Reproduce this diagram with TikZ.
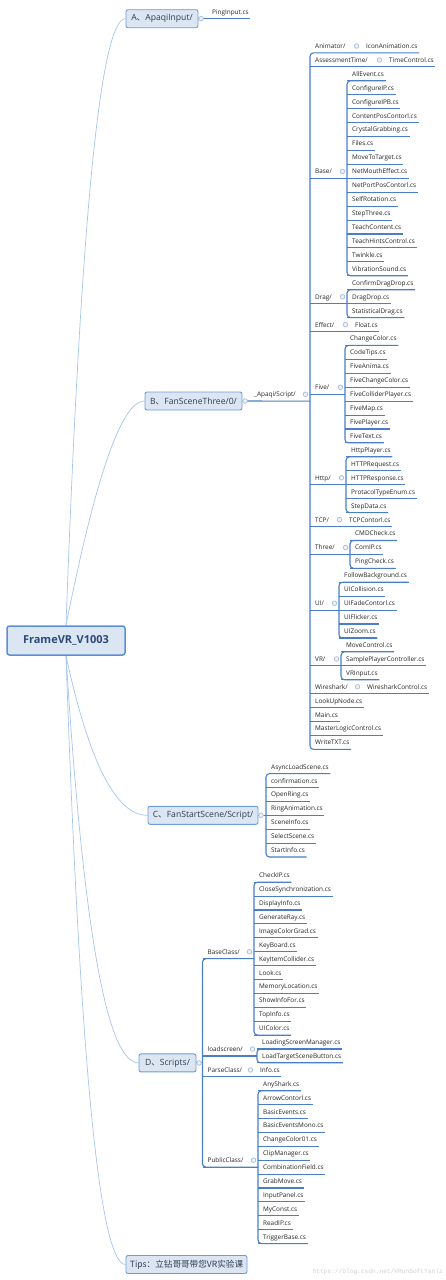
\documentclass[tikz,border=0pt]{standalone}
\usepackage{fontspec}
\setmainfont{Open Sans}
\newfontfamily\cjk{Noto Sans CJK SC}
\newfontfamily\wmfont{Liberation Mono}
\usetikzlibrary{calc}
\definecolor{ulc}{HTML}{4A7EC6}
\definecolor{cvc}{HTML}{A8C5EC}
\definecolor{boxf}{HTML}{DCE6F2}
\definecolor{boxd}{HTML}{6E9CD8}
\definecolor{rootd}{HTML}{5A8FD8}
\definecolor{boxt}{HTML}{2E3D52}
\definecolor{roott}{HTML}{2B4A7A}
\definecolor{txt}{HTML}{262626}
\definecolor{mkc}{HTML}{A9BCD8}
\definecolor{mkf}{HTML}{EEF2F8}
\definecolor{wmc}{HTML}{D0D0D0}
\pgfdeclarelayer{bg}
\pgfsetlayers{bg,main}
\newcommand{\ybr}[1]{(52.9+13.93*(#1))}
\newcommand{\ydd}[1]{(882.2+13.9*(#1))}
\newcommand{\mkgroup}[4]{%
  \draw[ul] (#1.south west) -- (#1.south west -| #2#3.south west);
  \draw[br] (#2#3.south east) -- (#2#3.south west) -- (#2#4.south west) -- (#2#4.south east);
  \foreach \k in {#3,...,#4} \draw[ul] (#2\k.south west) -- (#2\k.south east);
  \node[mk] at ($(#1.south west -| #2#3.south west)+(-4.5,-6.9)$) {};
}
\begin{document}
\begin{tikzpicture}[x=1pt,y=-1pt,
  lf/.style={anchor=south west, inner xsep=0pt, inner ysep=4.3pt, text depth=0pt,
    font=\fontsize{6.4}{7.5}\selectfont, text=txt,
    execute at begin node={\hspace*{5pt}}, execute at end node={\hspace*{1.5pt}}},
  ul/.style={draw=ulc, line width=1.1pt},
  br/.style={ul, rounded corners=3.5pt},
  mk/.style={circle, draw=mkc, fill=mkf, line width=0.7pt, minimum size=4.6pt, inner sep=0pt},
  l1/.style={draw=boxd, fill=boxf, line width=0.9pt, rounded corners=2pt, minimum height=18pt,
    inner sep=0pt, font=\fontsize{8.6}{10}\selectfont, text=boxt},
  rootbox/.style={draw=rootd, fill=boxf, line width=1.5pt, rounded corners=2.5pt,
    minimum width=118pt, minimum height=29pt, inner sep=0pt,
    font=\bfseries\fontsize{11}{13}\selectfont, text=roott},
  cv/.style={draw=cvc, line width=0.7pt}
]
\useasboundingbox (0,0) rectangle (446,1280);

% root and main branches
\node[rootbox] (root) at (66,640.5) {FrameVR\_V1003};
\node[l1, minimum width=72pt] (A) at (162,18.7) {A{\cjk 、}ApaqiInput/};
\node[l1, minimum width=97pt] (B) at (193.5,401) {B{\cjk 、}FanSceneThree/0/};
\node[l1, minimum width=110pt] (C) at (203,815.3) {C{\cjk 、}FanStartScene/Script/};
\node[l1, minimum width=57pt] (D) at (167.5,1062.9) {D{\cjk 、}Scripts/};
\node[l1, minimum width=121pt] (T) at (186.5,1264.5) {\cjk Tips：立钻哥哥带您VR实验课};

\begin{pgfonlayer}{bg}
\fill[white] (0,0) rectangle (446,1280);
\draw[cv] (root.north) .. controls +(14.7,-405) and +(-25.3,0) .. (A.west);
\draw[cv] (root.north) .. controls +(30,-150) and +(-23,0) .. (B.west);
\draw[cv] (root.south) .. controls +(23,106) and +(-32,0) .. (C.west);
\draw[cv] (root.south) .. controls +(17,271) and +(-32,0) .. (D.west);
\draw[cv] (root.south) .. controls +(14,406) and +(-26,0) .. (T.west);
\end{pgfonlayer}

% A
\node[lf] (ping) at (207,18.7) {PingInput.cs};
\draw[ul] (A.east) -- (ping.south east);
\node[mk] at ($(A.east)+(2.6,0)$) {};

% B
\node[lf] (apaqi) at (249,{\ybr{25}}) {\_Apaqi/Script/};
\node[lf] (animator) at (310,{\ybr{0}}) {Animator/};
\node[lf] (assess) at (310,{\ybr{1}}) {AssessmentTime/};
\node[lf] (base) at (310,{\ybr{9}}) {Base/};
\node[lf] (drag) at (310,{\ybr{18}}) {Drag/};
\node[lf] (effect) at (310,{\ybr{20}}) {Effect/};
\node[lf] (five) at (310,{\ybr{24.5}}) {Five/};
\node[lf] (http) at (310,{\ybr{31}}) {Http/};
\node[lf] (tcp) at (310,{\ybr{34}}) {TCP/};
\node[lf] (three) at (310,{\ybr{36}}) {Three/};
\node[lf] (ui) at (310,{\ybr{40}}) {UI/};
\node[lf] (vr) at (310,{\ybr{44}}) {VR/};
\node[lf] (wire) at (310,{\ybr{46}}) {Wireshark/};
\node[lf] (lookup) at (310,{\ybr{47}}) {LookUpNode.cs};
\node[lf] (mainf) at (310,{\ybr{48}}) {Main.cs};
\node[lf] (master) at (310,{\ybr{49}}) {MasterLogicControl.cs};
\node[lf] (writetxt) at (310,{\ybr{50}}) {WriteTXT.cs};

\node[lf] (iconanim) at (361,{\ybr{0}}) {IconAnimation.cs};
\node[lf] (timectrl) at (384,{\ybr{1}}) {TimeControl.cs};
\node[lf] (float) at (350,{\ybr{20}}) {Float.cs};
\node[lf] (tcpc) at (344,{\ybr{34}}) {TCPContorl.cs};
\node[lf] (wirec) at (362,{\ybr{46}}) {WiresharkControl.cs};

\foreach \t [count=\k from 2] in {AllEvent.cs,ConfigureIP.cs,ConfigureIPB.cs,ContentPosContorl.cs,CrystalGrabbing.cs,Files.cs,MoveToTarget.cs,NetMouthEffect.cs,NetPortPosContorl.cs,SelfRotation.cs,StepThree.cs,TeachContent.cs,TeachHintsControl.cs,Twinkle.cs,VibrationSound.cs}
  \node[lf] (ba\k) at (347,{\ybr{\k}}) {\t};
\foreach \t [count=\k from 17] in {ConfirmDragDrop.cs,DragDrop.cs,StatisticalDrag.cs}
  \node[lf] (dr\k) at (347,{\ybr{\k}}) {\t};
\foreach \t [count=\k from 21] in {ChangeColor.cs,CodeTips.cs,FiveAnima.cs,FiveChangeColor.cs,FiveColliderPlayer.cs,FiveMap.cs,FivePlayer.cs,FiveText.cs}
  \node[lf] (fv\k) at (345,{\ybr{\k}}) {\t};
\foreach \t [count=\k from 29] in {HttpPlayer.cs,HTTPRequest.cs,HTTPResponse.cs,ProtacolTypeEnum.cs,StepData.cs}
  \node[lf] (ht\k) at (346,{\ybr{\k}}) {\t};
\foreach \t [count=\k from 35] in {CMDCheck.cs,ComIP.cs,PingCheck.cs}
  \node[lf] (th\k) at (350,{\ybr{\k}}) {\t};
\foreach \t [count=\k from 38] in {FollowBackground.cs,UICollision.cs,UIFadeContorl.cs,UIFlicker.cs,UIZoom.cs}
  \node[lf] (uu\k) at (339,{\ybr{\k}}) {\t};
\foreach \t [count=\k from 43] in {MoveControl.cs,SamplePlayerController.cs,VRInput.cs}
  \node[lf] (vv\k) at (341,{\ybr{\k}}) {\t};

\draw[ul] (B.east) -- (apaqi.south west -| animator.south west);
\draw[br] (iconanim.south east) -- (animator.south west) -- (writetxt.south west) -- (writetxt.south east);
\draw[ul] (assess.south west) -- (timectrl.south east);
\draw[ul] (effect.south west) -- (float.south east);
\draw[ul] (tcp.south west) -- (tcpc.south east);
\draw[ul] (wire.south west) -- (wirec.south east);
\foreach \n in {lookup,mainf,master} \draw[ul] (\n.south west) -- (\n.south east);
\mkgroup{base}{ba}{2}{16}
\mkgroup{drag}{dr}{17}{19}
\mkgroup{five}{fv}{21}{28}
\mkgroup{http}{ht}{29}{33}
\mkgroup{three}{th}{35}{37}
\mkgroup{ui}{uu}{38}{42}
\mkgroup{vr}{vv}{43}{45}
\node[mk] at ($(B.east)+(2.6,0)$) {};
\node[mk] at ($(apaqi.south west -| animator.south west)+(-4.5,-6.9)$) {};
\foreach \n in {iconanim,timectrl,float,tcpc,wirec}
  \node[mk] at ($(\n.south west)+(-4.5,-6.9)$) {};

% C
\foreach \t [count=\k from 0] in {AsyncLoadScene.cs,confirmation.cs,OpenRing.cs,RingAnimation.cs,SceneInfo.cs,SelectScene.cs,StartInfo.cs}
  \node[lf] (cc\k) at (266,{773.6+13.9*\k}) {\t};
\draw[ul] (C.east) -- (C.east -| cc0.south west);
\draw[br] (cc0.south east) -- (cc0.south west) -- (cc6.south west) -- (cc6.south east);
\foreach \k in {1,...,5} \draw[ul] (cc\k.south west) -- (cc\k.south east);
\node[mk] at ($(C.east)+(2.6,0)$) {};

% D
\node[lf] (bcl) at (202.5,{\ydd{5.5}}) {BaseClass/};
\node[lf] (lds) at (202.5,{\ydd{12.5}}) {loadscreen/};
\node[lf] (psc) at (202.5,{\ydd{14}}) {ParseClass/};
\node[lf] (pbc) at (202.5,{\ydd{20.5}}) {PublicClass/};
\foreach \t [count=\k from 0] in {CheckIP.cs,CloseSynchronization.cs,DisplayInfo.cs,GenerateRay.cs,ImageColorGrad.cs,KeyBoard.cs,KeyItemCollider.cs,Look.cs,MemoryLocation.cs,ShowInfoFor.cs,TopInfo.cs,UIColor.cs}
  \node[lf] (bc\k) at (254,{\ydd{\k}}) {\t};
\foreach \t [count=\k from 12] in {LoadingScreenManager.cs,LoadTargetSceneButton.cs}
  \node[lf] (ls\k) at (257,{\ydd{\k}}) {\t};
\node[lf] (info) at (255,{\ydd{14}}) {Info.cs};
\foreach \t [count=\k from 15] in {AnyShark.cs,ArrowContorl.cs,BasicEvents.cs,BasicEventsMono.cs,ChangeColor01.cs,ClipManager.cs,CombinationField.cs,GrabMove.cs,InputPanel.cs,MyConst.cs,ReadIP.cs,TriggerBase.cs}
  \node[lf] (pc\k) at (258,{\ydd{\k}}) {\t};

\draw[ul] (D.east) -- (D.east -| bcl.south west);
\draw[br] (bcl.south west -| bc0.south west) -- (bcl.south west) -- (pbc.south west) -- (pbc.south west -| pc15.south west);
\draw[ul] (psc.south west) -- (info.south east);
\mkgroup{bcl}{bc}{0}{11}
\mkgroup{lds}{ls}{12}{13}
\mkgroup{pbc}{pc}{15}{26}
\node[mk] at ($(D.east)+(2.6,0)$) {};
\node[mk] at ($(info.south west)+(-4.5,-6.9)$) {};

% watermark
\node[anchor=east, inner sep=0pt, font=\wmfont\fontsize{6.2}{7}\selectfont, text=wmc] (wm) at (443,1272) {https://blog.csdn.net/VRunSoftYanlz};
\end{tikzpicture}
\end{document}
